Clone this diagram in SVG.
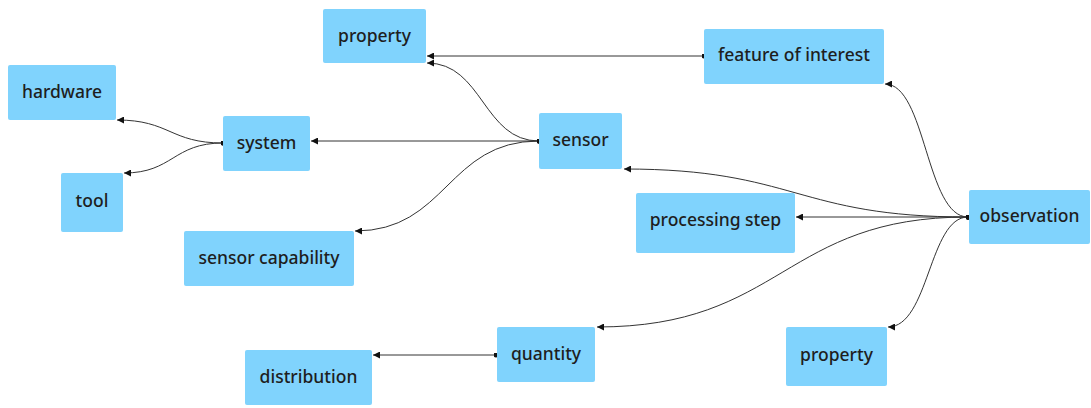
<svg xmlns="http://www.w3.org/2000/svg" width="1091" height="408" viewBox="0 0 1091 408">
<style>
.node rect{fill:#80d3fd;stroke:none}
.node text{font-family:"Noto Sans","Open Sans",sans-serif;font-size:17.5px;font-weight:500;fill:#1e1e1e;text-anchor:middle}
.edge{fill:none;stroke:#333;stroke-width:1;marker-start:url(#dot);marker-end:url(#arrow)}
</style>
<defs>
<marker id="arrow" viewBox="0 0 10 10" refX="10" refY="5" markerWidth="7" markerHeight="7" markerUnits="userSpaceOnUse" orient="auto">
<path d="M0,0 L10,5 L0,10 Z" fill="#111"/>
</marker>
<marker id="dot" viewBox="0 0 10 10" refX="5" refY="5" markerWidth="5" markerHeight="5" markerUnits="userSpaceOnUse">
<circle cx="5" cy="5" r="5" fill="#111"/>
</marker>
</defs>
<g id="connectors">
<path class="edge" d="M704,56 L427,56"/>
<path class="edge" d="M539,141 C483,141 483,63 427,63"/>
<path class="edge" d="M539,141 L311,141"/>
<path class="edge" d="M539,141 C447,141 447,231 355,231"/>
<path class="edge" d="M223,143 C170,143 170,120 117,120"/>
<path class="edge" d="M223,143 C173,143 173,173 124,173"/>
<path class="edge" d="M968,217 C926,217 926,84 885,84"/>
<path class="edge" d="M968,217 C796,217 796,169 624,169"/>
<path class="edge" d="M968,217 L796,217"/>
<path class="edge" d="M968,217 C783,217 783,327 597,327"/>
<path class="edge" d="M968,217 C929,217 929,327 888,327"/>
<path class="edge" d="M496,355 L373,355"/>
</g>
<g id="property1" class="node"><rect x="323" y="9" width="103" height="54" rx="2"/><text x="374.5" y="41.5">property</text></g>
<g id="hardware" class="node"><rect x="8" y="65" width="108" height="55" rx="2"/><text x="62" y="97.5">hardware</text></g>
<g id="system" class="node"><rect x="223" y="116" width="87" height="55" rx="2"/><text x="266.5" y="148.5">system</text></g>
<g id="tool" class="node"><rect x="61" y="173" width="62" height="59" rx="2"/><text x="92" y="207">tool</text></g>
<g id="sensor-capability" class="node"><rect x="184" y="231" width="170" height="55" rx="2"/><text x="269" y="263.5">sensor capability</text></g>
<g id="feature-of-interest" class="node"><rect x="704" y="29" width="180" height="55" rx="2"/><text x="794" y="61">feature of interest</text></g>
<g id="sensor" class="node"><rect x="539" y="113" width="83" height="56" rx="2"/><text x="580.5" y="146">sensor</text></g>
<g id="processing-step" class="node"><rect x="636" y="193" width="159" height="60" rx="2"/><text x="715.5" y="226">processing step</text></g>
<g id="observation" class="node"><rect x="969" y="190" width="121" height="54" rx="2"/><text x="1029.5" y="222">observation</text></g>
<g id="quantity" class="node"><rect x="497" y="327" width="98" height="55" rx="2"/><text x="546" y="359.5">quantity</text></g>
<g id="distribution" class="node"><rect x="245" y="350" width="127" height="55" rx="2"/><text x="308.5" y="382.5">distribution</text></g>
<g id="property2" class="node"><rect x="786" y="327" width="101" height="59" rx="2"/><text x="836.5" y="361">property</text></g>
</svg>
